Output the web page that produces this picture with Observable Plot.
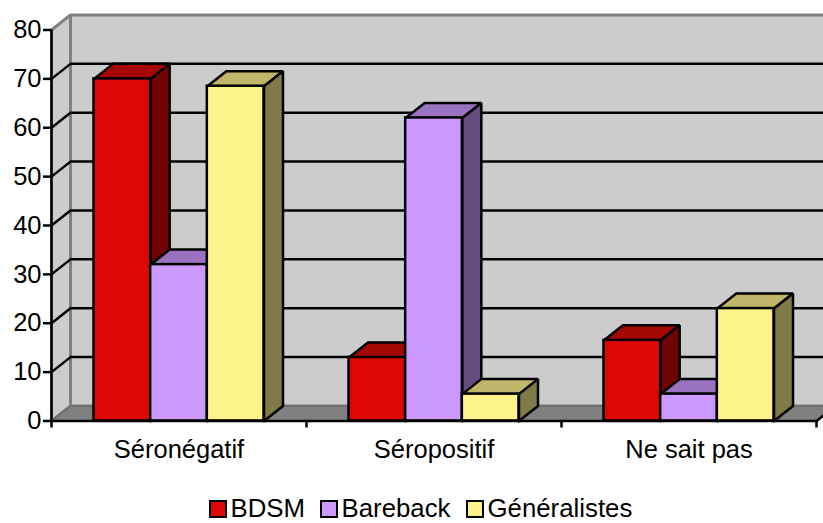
<!DOCTYPE html>
<html lang="fr">
<head>
<meta charset="utf-8">
<title>Statut sérologique</title>
<script src="https://cdn.jsdelivr.net/npm/d3@7"></script>
<script src="https://cdn.jsdelivr.net/npm/@observablehq/plot@0.6"></script>
<style>
  html, body { margin: 0; padding: 0; background: #fff; overflow: hidden; }
  body { width: 823px; height: 523px; font-family: "Liberation Sans", Arial, sans-serif; color: #000; }
  #legend { position: absolute; left: 0; top: 495px; width: 823px; height: 28px; font-size: 25.8px; line-height: 23px; }
  #legend .item { position: absolute; top: 2px; display: flex; align-items: center; height: 23px; }
  #legend .swatch { width: 14px; height: 14px; border: 2.5px solid #000; margin-right: 4px; }
</style>
</head>
<body>
<div id="chart"></div>
<div id="legend"></div>
<script>
// Response shares by serological status, one list per group of respondents
const categories = ["Séronégatif", "Séropositif", "Ne sait pas"];
const seriesNames = ["BDSM", "Bareback", "Généralistes"];
const bdsm = [70, 13, 16.5];
const bareback = [32, 62, 5.5];
const generalistes = [68.5, 5.5, 23];
const yTicks = [0, 10, 20, 30, 40, 50, 60, 70, 80];

// Face shades of each series: front, top, side
const frontColors = ["#dd0806", "#cc99ff", "#fff38c"];
const topColors = ["#a60604", "#9973bf", "#bfb669"];
const sideColors = ["#6f0403", "#664d80", "#807a46"];

const seriesValues = [bdsm, bareback, generalistes];

// Oblique depth of the box, in data units of each axis
const depthX = 19 / 255;
const depthY = 3.07;
const barWidth = 2 / 9;
const groupInset = 1 / 6;
const yMax = 80;
const xMax = categories.length;

const bars = categories.flatMap((category, i) =>
  seriesNames.map((name, s) => ({
    category,
    name,
    value: seriesValues[s][i],
    x1: i + groupInset + s * barWidth,
    x2: i + groupInset + (s + 1) * barWidth,
    front: frontColors[s],
    top: topColors[s],
    side: sideColors[s]
  }))
);

// A closed outline given as [x, y] pairs in data space
const polygon = (points, options) =>
  Plot.line([...points, points[0]], {
    x: (d) => d[0],
    y: (d) => d[1],
    curve: "linear",
    strokeLinejoin: "miter",
    strokeLinecap: "square",
    ...options
  });

const barMarks = bars.flatMap((b) => [
  polygon(
    [[b.x1, b.value], [b.x1 + depthX, b.value + depthY], [b.x2 + depthX, b.value + depthY], [b.x2, b.value]],
    { fill: b.top, stroke: "#000", strokeWidth: 2.5 }
  ),
  polygon(
    [[b.x2, 0], [b.x2 + depthX, depthY], [b.x2 + depthX, b.value + depthY], [b.x2, b.value]],
    { fill: b.side, stroke: "#000", strokeWidth: 2.5 }
  ),
  Plot.rect([b], {
    x1: "x1",
    x2: "x2",
    y1: 0,
    y2: "value",
    fill: b.front,
    stroke: "#000",
    strokeWidth: 2.5
  })
]);

const gridValues = yTicks.filter((v) => v > 0 && v < yMax);

const chart = Plot.plot({
  width: 823,
  height: 495,
  marginLeft: 51,
  marginRight: 7,
  marginTop: 29.5,
  marginBottom: 74.5,
  x: { type: "linear", domain: [0, xMax], axis: null },
  y: { type: "linear", domain: [0, yMax], axis: null },
  style: {
    fontFamily: '"Liberation Sans", Arial, sans-serif',
    overflow: "hidden",
    background: "#fff",
    color: "#000"
  },
  marks: [
    // Walls and floor
    polygon([[depthX, depthY], [xMax + depthX, depthY], [xMax + depthX, yMax + depthY], [depthX, yMax + depthY]],
      { fill: "#cccccc", stroke: "#808080", strokeWidth: 3 }),
    polygon([[0, 0], [depthX, depthY], [depthX, yMax + depthY], [0, yMax]],
      { fill: "#cccccc", stroke: "#808080", strokeWidth: 3 }),
    polygon([[0, 0], [depthX, depthY], [xMax + depthX, depthY], [xMax, 0]],
      { fill: "#808080", stroke: "#707070", strokeWidth: 2 }),

    // Gridlines on the back and side walls
    Plot.ruleY(gridValues, {
      x1: depthX,
      x2: xMax + depthX,
      y: (v) => v + depthY,
      stroke: "#000",
      strokeWidth: 2.5
    }),
    Plot.link(gridValues, {
      x1: 0,
      y1: (v) => v,
      x2: depthX,
      y2: (v) => v + depthY,
      stroke: "#000",
      strokeWidth: 2.5
    }),
    Plot.link([0], {
      x1: xMax,
      y1: 0,
      x2: xMax + depthX,
      y2: depthY,
      stroke: "#000",
      strokeWidth: 2.5
    }),

    ...barMarks,

    // Axes
    Plot.ruleX([0], { y1: 0, y2: yMax, stroke: "#000", strokeWidth: 2.5 }),
    Plot.ruleY([0], { x1: 0, x2: xMax, stroke: "#000", strokeWidth: 2.5 }),
    Plot.axisY(yTicks, {
      anchor: "left",
      tickSize: 8,
      tickPadding: 2,
      strokeWidth: 2.5,
      stroke: "#000",
      fontSize: 25.5,
      fill: "#000",
      label: null
    }),
    Plot.axisX(d3.range(xMax + 1), {
      anchor: "bottom",
      tickSize: 7,
      strokeWidth: 2.5,
      stroke: "#000",
      tickFormat: () => "",
      label: null
    }),
    Plot.axisX(categories.map((_, i) => i + 0.5), {
      anchor: "bottom",
      tickSize: 0,
      tickPadding: 19,
      fontSize: 25.5,
      fill: "#000",
      tickFormat: (v) => categories[Math.floor(v)],
      label: null
    })
  ]
});
document.getElementById("chart").appendChild(chart);

// Legend row under the chart
const legendLeft = [208.5, 319.5, 465.5];
const legend = d3.select("#legend");
seriesNames.forEach((name, s) => {
  const item = legend.append("div").attr("class", "item").style("left", legendLeft[s] + "px");
  item.append("span").attr("class", "swatch").style("background", frontColors[s]);
  item.append("span").text(name);
});
</script>
</body>
</html>
